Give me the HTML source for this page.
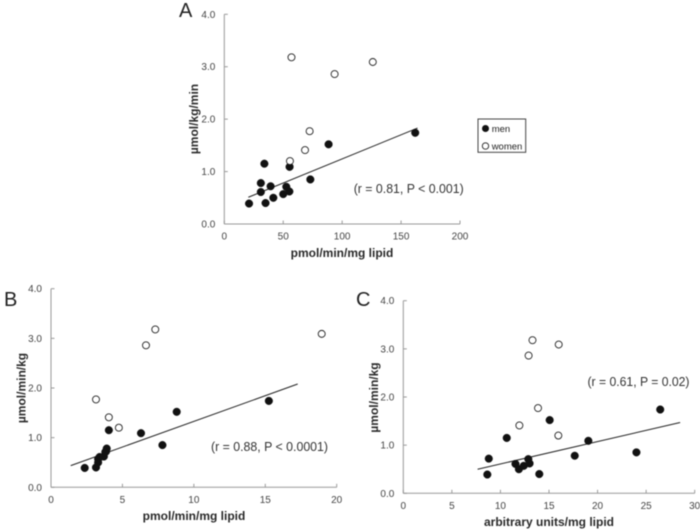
<!DOCTYPE html>
<html>
<head>
<meta charset="utf-8">
<style>
html,body{margin:0;padding:0;background:#fff;}
svg{display:block;filter:blur(0.45px);}
text{font-family:"Liberation Sans","DejaVu Sans",sans-serif;}
.tick{font-size:10px;fill:#444;}
.title{font-size:12px;font-weight:bold;fill:#2a2a2a;}
.note{font-size:13px;fill:#333;}
.letter{font-size:20px;fill:#222;}
</style>
</head>
<body>
<svg id="chart" xmlns="http://www.w3.org/2000/svg" width="700" height="531" viewBox="0 0 700 531"></svg>
<script>
var yTicks = [0, 1, 2, 3, 4];
var yTickLabels = ["0.0", "1.0", "2.0", "3.0", "4.0"];

var menY = [0.39, 0.40, 0.50, 0.57, 0.71, 0.62, 0.61, 0.78, 0.72, 1.15, 1.09, 0.85, 1.52, 1.74];
var womenY = [3.18, 2.86, 3.09, 1.77, 1.41, 1.20];

var menXA = [21, 35, 41.6, 50, 52.6, 55.2, 31, 31, 39.3, 34, 55.4, 73, 88.5, 162];
var womenXA = [57, 93.6, 126, 72.4, 68.5, 55.7];
var xTicksA = [0, 50, 100, 150, 200];
var trendXA = [20.4, 164];
var trendYA = [0.51, 1.83];

var menXB = [2.36, 3.15, 3.3, 3.3, 3.8, 3.7, 3.4, 3.9, 3.85, 4.05, 6.3, 7.8, 8.8, 15.25];
var womenXB = [7.3, 6.65, 18.95, 3.15, 4.05, 4.75];
var xTicksB = [0, 5, 10, 15, 20];
var trendXB = [1.38, 17.27];
var trendYB = [0.436, 2.08];

var menXC = [8.65, 14.0, 11.9, 12.4, 12.87, 13, 11.55, 17.65, 8.8, 10.65, 19.05, 24, 15.07, 26.45];
var womenXC = [13.3, 12.9, 16, 13.87, 11.95, 15.96];
var xTicksC = [0, 5, 10, 15, 20, 25, 30];
var trendXC = [7.65, 28.5];
var trendYC = [0.5, 1.47];

var NS = "http://www.w3.org/2000/svg";
var root = document.getElementById("chart");

function make(parent, tag, attrs, txt) {
  var el = document.createElementNS(NS, tag);
  for (var k in attrs) { el.setAttribute(k, attrs[k]); }
  if (txt !== undefined) { el.textContent = txt; }
  parent.appendChild(el);
  return el;
}

function drawPanel(p) {
  var g = make(root, "g", {});
  
  
  var xMax = p.xTicks[p.xTicks.length - 1];
  function sx(v) { return p.x0 + (v / xMax) * (p.x1 - p.x0); }
  function sy(v) { return p.y0 - (v / 4) * (p.y0 - p.y1); }

  var letter = make(g, "text", { x: p.lx, y: p.ly, "class": "letter" }, p.id);
  
  

  var yAxis = make(g, "line", { x1: p.x0, y1: p.y0, x2: p.x0, y2: p.y1, stroke: "#999", "stroke-width": 1 });
  
  
  var xAxis = make(g, "line", { x1: p.x0, y1: p.y0, x2: p.x1, y2: p.y0, stroke: "#999", "stroke-width": 1 });
  
  

  yTicks.forEach(function (t, i) {
    var tk = make(g, "line", { x1: p.x0, x2: p.x0 + 3.5, y1: sy(t), y2: sy(t), stroke: "#999", "stroke-width": 1 });
    
    
    var lb = make(g, "text", { x: p.x0 - 9, y: sy(t) + 3.5, "text-anchor": "end", "class": "tick" }, yTickLabels[i]);
    
    
  });
  p.xTicks.forEach(function (t) {
    var tk = make(g, "line", { x1: sx(t), x2: sx(t), y1: p.y0, y2: p.y0 - 3.5, stroke: "#999", "stroke-width": 1 });
    
    
    var lb = make(g, "text", { x: sx(t), y: p.y0 + 15.5, "text-anchor": "middle", "class": "tick" }, String(t));
    
    
  });

  var xt = make(g, "text", { x: p.xtx, y: p.xty, "text-anchor": "middle", "class": "title" }, p.xTitle);
  
  
  var yt = make(g, "text", { x: 0, y: 0, "text-anchor": "middle", "class": "title", transform: "translate(" + p.ytx + "," + p.yty + ") rotate(-90)" }, p.yTitle);
  
  

  var tl = make(g, "line", {
    x1: sx(p.trendX[0]), y1: sy(p.trendY[0]),
    x2: sx(p.trendX[1]), y2: sy(p.trendY[1]),
    stroke: "#222", "stroke-width": 1
  });
  
  

  p.menX.forEach(function (v, i) {
    var c = make(g, "circle", { cx: sx(v), cy: sy(menY[i]), r: 3.8, fill: "#111", stroke: "#111", "stroke-width": 0.5 });
    
    
  });
  p.womenX.forEach(function (v, i) {
    var c = make(g, "circle", { cx: sx(v), cy: sy(womenY[i]), r: 3.5, fill: "#fff", stroke: "#222", "stroke-width": 0.9 });
    
    
  });

  var n = make(g, "text", { x: p.nx, y: p.ny, "class": "note", textLength: p.nw, lengthAdjust: "spacingAndGlyphs" }, p.note);
  
  
}

drawPanel({
  id: "A", x0: 224.3, x1: 460, y0: 224, y1: 14.3, lx: 179, ly: 17,
  xTicks: xTicksA, menX: menXA, womenX: womenXA, trendX: trendXA, trendY: trendYA,
  xTitle: "pmol/min/mg lipid", xtx: 342, xty: 257,
  yTitle: "\u00b5mol/kg/min", ytx: 198, yty: 119,
  note: "(r = 0.81, P < 0.001)", nx: 353.7, ny: 193, nw: 110
});
drawPanel({
  id: "B", x0: 51, x1: 336.7, y0: 487.3, y1: 288.7, lx: 4, ly: 306,
  xTicks: xTicksB, menX: menXB, womenX: womenXB, trendX: trendXB, trendY: trendYB,
  xTitle: "pmol/min/mg lipid", xtx: 194, xty: 520,
  yTitle: "\u00b5mol/min/kg", ytx: 25.5, yty: 388,
  note: "(r = 0.88, P < 0.0001)", nx: 211, ny: 451, nw: 117
});
drawPanel({
  id: "C", x0: 403.3, x1: 694.7, y0: 493.3, y1: 300.7, lx: 356, ly: 306,
  xTicks: xTicksC, menX: menXC, womenX: womenXC, trendX: trendXC, trendY: trendYC,
  xTitle: "arbitrary units/mg lipid", xtx: 549, xty: 526,
  yTitle: "\u00b5mol/min/kg", ytx: 378, yty: 397.5,
  note: "(r = 0.61, P = 0.02)", nx: 587.5, ny: 386, nw: 102
});

var legend = make(root, "g", {});


var box = make(legend, "rect", { x: 478, y: 119, width: 47.7, height: 33.3, fill: "#fff", stroke: "#444", "stroke-width": 1 });


var lm = make(legend, "circle", { cx: 485.5, cy: 128.5, r: 3.5, fill: "#111" });


var lmt = make(legend, "text", { x: 491.7, y: 132, "font-size": "9.5", fill: "#222" }, "men");


var lw = make(legend, "circle", { cx: 485.5, cy: 146, r: 3.2, fill: "#fff", stroke: "#222", "stroke-width": 0.9 });


var lwt = make(legend, "text", { x: 491.7, y: 149.5, "font-size": "9.5", fill: "#222" }, "women");


</script>
</body>
</html>
